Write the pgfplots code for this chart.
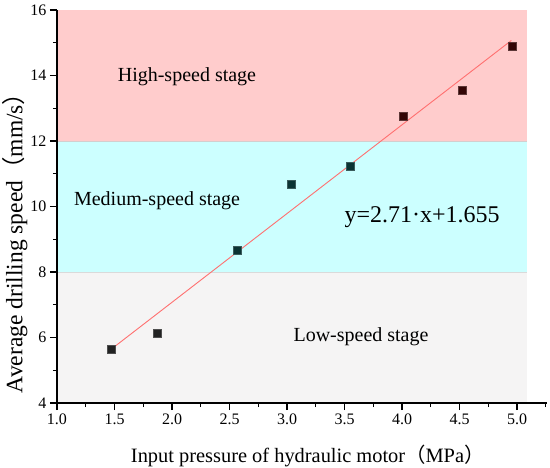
\documentclass[border=0pt]{standalone}
\usepackage{pgfplots}
\pgfplotsset{compat=1.18}
\usepackage{fontspec}
\setmainfont{Liberation Serif}
\newfontfamily\cjk{Noto Sans CJK SC}
\usetikzlibrary{calc}
\definecolor{lowc}{HTML}{F5F4F4}
\definecolor{medc}{HTML}{CCFFFF}
\definecolor{highc}{HTML}{FFCCCC}
\definecolor{fitc}{HTML}{FF7070}
\definecolor{mlow}{HTML}{222222}
\definecolor{mmed}{HTML}{0A3333}
\definecolor{mhigh}{HTML}{330505}
\definecolor{sep}{HTML}{DADADA}
\begin{document}
\begin{tikzpicture}
\begin{axis}[
  scale only axis, width=490bp, height=393bp,
  xmin=1, xmax=5.26, ymin=4, ymax=16,
  axis x line*=bottom, axis y line*=left,
  axis line style={line width=1.2bp, -},
  xtick={1,1.5,2,2.5,3,3.5,4,4.5,5},
  minor xtick={1.25,1.75,2.25,2.75,3.25,3.75,4.25,4.75,5.25},
  ytick={4,6,8,10,12,14,16},
  minor ytick={5,7,9,11,13,15},
  tick align=outside,
  major tick length=7bp, minor tick length=4bp,
  every tick/.style={line width=1.2bp, black},
  xticklabel={\pgfmathprintnumber[assume math mode=true,fixed,fixed zerofill,precision=1]{\tick}},
  yticklabel={\pgfmathprintnumber[assume math mode=true]{\tick}},
  xticklabel style={font=\fontsize{16bp}{19bp}\selectfont},
  yticklabel style={font=\fontsize{16bp}{19bp}\selectfont},
  clip=false,
  axis on top,
]
\fill[lowc] (axis cs:1,4) rectangle (axis cs:5.09,8);
\fill[medc] (axis cs:1,8) rectangle (axis cs:5.09,12);
\fill[highc] (axis cs:1,12) rectangle (axis cs:5.09,16);
\draw[sep, line width=0.8bp] (axis cs:1,8) -- (axis cs:5.09,8);
\draw[highc!85!black!60!medc, line width=0.5bp] (axis cs:1,12) -- (axis cs:5.09,12);

\addplot[only marks, mark=square*, mark size=4bp, mark options={fill=mlow, draw=mlow!80!white, line width=0.4bp}]
  coordinates {(1.47,5.64) (1.872,6.12)};
\addplot[only marks, mark=square*, mark size=4bp, mark options={fill=mmed, draw=mmed!80!white, line width=0.4bp}]
  coordinates {(2.563,8.66) (3.04,10.69) (3.55,11.22)};
\addplot[only marks, mark=square*, mark size=4bp, mark options={fill=mhigh, draw=mhigh!80!white, line width=0.4bp}]
  coordinates {(4.006,12.75) (4.525,13.55) (4.96,14.90)};
\addplot[fitc, line width=0.9bp, no marks] coordinates {(1.47,5.639) (4.95,15.07)};

\node[font=\fontsize{20bp}{24bp}\selectfont] at (axis cs:2.13,13.95) {High-speed stage};
\node[font=\fontsize{20bp}{24bp}\selectfont] at (axis cs:1.87,10.17) {Medium-speed stage};
\node[font=\fontsize{20bp}{24bp}\selectfont] at (axis cs:3.643,6.02) {Low-speed stage};
\node[font=\fontsize{24bp}{28bp}\selectfont] at (axis cs:4.174,9.68) {y=2.71·x+1.655};

\node[font=\fontsize{20.4bp}{24bp}\selectfont, anchor=base] at (axis cs:3.18,2.198) {Input pressure of hydraulic motor{\cjk （}MPa{\cjk ）}};
\node[font=\fontsize{23.5bp}{27bp}\selectfont, anchor=base, rotate=90] at (axis cs:0.70,9.06) {Average drilling speed{\cjk （}mm/s{\cjk ）}};

\coordinate (bl) at (rel axis cs:0,0);
\coordinate (tr) at (rel axis cs:1,1);
\end{axis}
\pgfresetboundingbox
\path[use as bounding box] ($(bl)+(-57bp,-65bp)$) rectangle ($(tr)+(3bp,10bp)$);
\end{tikzpicture}
\end{document}
